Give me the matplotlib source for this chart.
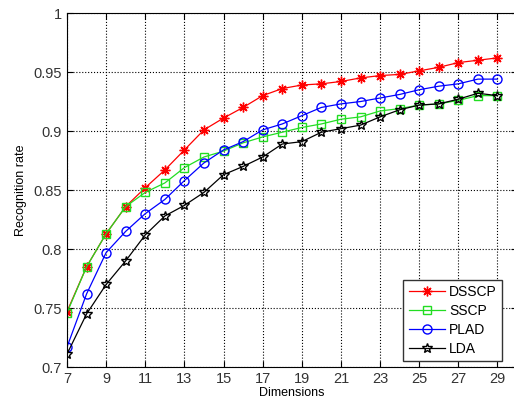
import matplotlib
matplotlib.use("Agg")
import matplotlib.pyplot as plt

plt.rcParams['font.family'] = ['Liberation Sans', 'DejaVu Sans']

# Data
dims = list(range(7, 30))
dsscp = [0.747, 0.785, 0.813, 0.836, 0.852, 0.867, 0.884, 0.901, 0.911, 0.920,
         0.930, 0.936, 0.939, 0.940, 0.942, 0.945, 0.947, 0.948, 0.951, 0.954,
         0.958, 0.960, 0.962]
sscp = [0.746, 0.785, 0.813, 0.836, 0.848, 0.856, 0.869, 0.878, 0.883, 0.890,
        0.895, 0.899, 0.903, 0.906, 0.910, 0.912, 0.917, 0.919, 0.922, 0.923,
        0.926, 0.930, 0.930]
plad = [0.717, 0.762, 0.797, 0.815, 0.830, 0.842, 0.858, 0.873, 0.884, 0.891,
        0.901, 0.906, 0.913, 0.920, 0.923, 0.925, 0.928, 0.931, 0.935, 0.938,
        0.940, 0.944, 0.944]
lda = [0.711, 0.745, 0.770, 0.790, 0.812, 0.828, 0.837, 0.848, 0.863, 0.870,
       0.878, 0.889, 0.891, 0.899, 0.902, 0.905, 0.912, 0.918, 0.922, 0.923,
       0.927, 0.932, 0.930]
xticks = list(range(7, 30, 2))
yticks = [0.7, 0.75, 0.8, 0.85, 0.9, 0.95, 1.0]
ytick_labels = ['0.7', '0.75', '0.8', '0.85', '0.9', '0.95', '1']

fig = plt.figure(figsize=(5.14, 4.05), dpi=100)
ax = fig.add_axes([0.1304, 0.0938, 0.8755, 0.874])

# matlab-ish markers: asterisk, square, circle, pentagram
ax.plot(dims, dsscp, color='#ff0000', marker=(8, 2, 0), markersize=7, mew=1.0, lw=0.9, label='DSSCP')
ax.plot(dims, sscp, color='#22dd22', marker='s', markersize=6, mfc='none', lw=0.9, label='SSCP')
ax.plot(dims, plad, color='#0000ff', marker='o', markersize=6.5, mfc='none', lw=0.9, label='PLAD')
ax.plot(dims, lda, color='black', marker='*', markersize=7, mfc='none', lw=0.9, label='LDA')

ax.set_xlim(7, 30)
ax.set_ylim(0.7, 1.0)
ax.set_xticks(xticks)
ax.set_yticks(yticks)
ax.set_yticklabels(ytick_labels)
ax.tick_params(direction='in', top=True, right=True, labelsize=10.5, length=4, labelcolor='#333333')
ax.grid(True, color='black', linestyle=':', linewidth=0.8)

ax.set_xlabel('Dimensions', fontsize=9, labelpad=1)
ax.set_ylabel('Recognition rate', fontsize=9, labelpad=5)

leg = ax.legend(loc='lower right', fontsize=10, fancybox=False, edgecolor='#333333',
                framealpha=1, handlelength=2.6, handletextpad=0.3, borderaxespad=0.4,
                bbox_to_anchor=(0.98, 0.0), labelspacing=0.35)
leg.get_frame().set_linewidth(1.0)

fig.savefig('out.png', dpi=100)
